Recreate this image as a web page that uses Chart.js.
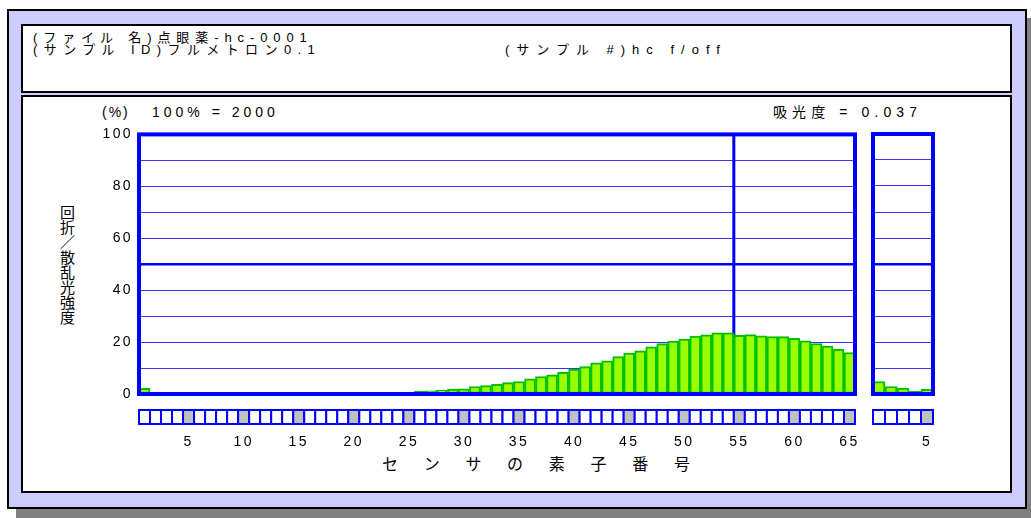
<!DOCTYPE html>
<html lang="ja">
<head>
<meta charset="utf-8">
<title>回折/散乱光強度</title>
<script src="https://cdn.jsdelivr.net/npm/chart.js@4.4.1/dist/chart.umd.min.js"></script>
<style>
html,body{margin:0;padding:0;background:#fff;width:1031px;height:518px;overflow:hidden;}
body{position:relative;font-family:"Liberation Sans","Noto Sans CJK JP",sans-serif;color:#000;}
.frame{position:absolute;left:7px;top:9px;width:1016px;height:496px;border:2px solid #000;background:#ccccff;box-shadow:9px 9px 0 #808080;}
.box{position:absolute;left:21px;width:987px;border:2px solid #000;background:#fff;}
#head{top:24px;height:65px;}
#plot{top:95px;height:394px;}
.t{position:absolute;white-space:pre;}
.h{font-size:13px;line-height:13px;}
.m{font-size:14px;line-height:14px;}
#ytitle{position:absolute;left:59px;top:204px;width:17px;font-family:"Noto Sans CJK JP",sans-serif;font-size:15px;line-height:15px;text-align:center;}
#xtitle{position:absolute;left:382px;top:455px;font-family:"Noto Sans CJK JP",sans-serif;font-size:16px;line-height:16px;letter-spacing:25.7px;white-space:pre;}
canvas{position:absolute;}
#main{left:0;top:120px;}
#side{left:866px;top:120px;}
</style>
</head>
<body>
<div class="frame"></div>
<div class="box" id="head"></div>
<div class="box" id="plot"></div>

<div class="t h" style="left:33px;top:31px;letter-spacing:5.9px;">(ファイル 名)点眼薬-hc-0001</div>
<div class="t h" style="left:33px;top:43px;letter-spacing:6.4px;">(サンプル ID)フルメトロン0.1</div>
<div class="t h" style="left:505px;top:43px;letter-spacing:7px;">(サンプル #)hc f/off</div>

<div class="t m" style="left:102px;top:105px;letter-spacing:2px;">(%)</div>
<div class="t m" style="left:152px;top:105px;letter-spacing:4px;">100% = 2000</div>
<div class="t m" style="left:773px;top:105px;letter-spacing:5.1px;">吸光度 = 0.037</div>

<div id="ytitle">回<br>折<br>／<br>散<br>乱<br>光<br>強<br>度</div>
<div id="xtitle">センサの素子番号</div>

<canvas id="main" width="870" height="340"></canvas>
<canvas id="side" width="80" height="340"></canvas>

<script>
// Sensor element numbers of the main detector array and of the side array
const mainSensors = [1,2,3,4,5,6,7,8,9,10,11,12,13,14,15,16,17,18,19,20,
  21,22,23,24,25,26,27,28,29,30,31,32,33,34,35,36,37,38,39,40,
  41,42,43,44,45,46,47,48,49,50,51,52,53,54,55,56,57,58,59,60,
  61,62,63,64,65];
const sideSensors = [1,2,3,4,5];

// Diffraction / scattering intensity per element (%, 100% = 2000)
const mainIntensity = [2.2,0.7,0,0,0,0,0,0,0,0,0,0,0,0,0,0,0,0,0,0,
  0.4,0.4,0.5,0.5,0.6,1.0,1.2,1.5,1.9,2.0,
  2.9,3.2,3.7,4.4,4.8,5.8,6.7,7.4,8.3,9.6,
  10.6,12.0,12.8,14.4,15.8,16.6,18.2,19.4,20.4,21.2,
  22.3,22.8,23.6,23.6,22.6,22.9,22.4,22.1,22.1,21.4,
  20.5,19.4,18.5,17.2,16.0];
const sideIntensity = [4.8,2.9,2.3,1.0,1.8];

// Labelled ticks
const yTickLabels = [0,20,40,60,80,100];
const mainXTickLabels = [5,10,15,20,25,30,35,40,45,50,55,60,65];
const sideXTickLabels = [5];

// Boundary line drawn after this element of the main array
const markerAfter = 54;

const BLUE = '#0000ff';
Chart.defaults.font.family = '"Liberation Sans","Noto Sans CJK JP",sans-serif';
Chart.defaults.font.size = 14;
Chart.defaults.color = '#000';

const panelDecor = {
  id: 'panelDecor',
  beforeDraw(chart) {
    chart.ctx.letterSpacing = '2.4px';
  },
  beforeDatasetsDraw(chart, args, opts) {
    if (opts.marker == null) return;
    const {ctx, chartArea: a, scales: {x}} = chart;
    const px = (x.getPixelForValue(opts.marker - 1) + x.getPixelForValue(opts.marker)) / 2;
    ctx.save();
    ctx.strokeStyle = BLUE;
    ctx.lineWidth = 3;
    ctx.beginPath();
    ctx.moveTo(px, a.top);
    ctx.lineTo(px, a.bottom);
    ctx.stroke();
    ctx.restore();
  },
  afterDatasetsDraw(chart) {
    const {ctx, chartArea: a} = chart;
    ctx.save();
    ctx.strokeStyle = BLUE;
    ctx.lineWidth = 4;
    ctx.strokeRect(a.left, a.top, a.right - a.left, a.bottom - a.top);
    ctx.restore();
  },
  afterDraw(chart) {
    // element strip under the plot, every fifth element shaded
    const {ctx, chartArea: a, scales: {x}} = chart;
    const labels = chart.data.labels;
    const w = x.getPixelForValue(1) - x.getPixelForValue(0);
    const top = a.bottom + 16, h = 14;
    ctx.save();
    ctx.lineWidth = 2;
    ctx.strokeStyle = BLUE;
    labels.forEach((lab, i) => {
      const cx = x.getPixelForValue(i);
      ctx.fillStyle = lab % 5 === 0 ? '#c0c0c0' : '#ffffff';
      ctx.fillRect(cx - w / 2, top, w, h);
      ctx.strokeRect(cx - w / 2, top, w, h);
    });
    ctx.restore();
  }
};

function makeChart(id, labels, values, xTicks, opts) {
  return new Chart(document.getElementById(id), {
    type: 'bar',
    data: {
      labels: labels,
      datasets: [{
        data: values,
        backgroundColor: '#99ff00',
        borderColor: '#00c000',
        borderWidth: 2,
        borderSkipped: false,
        barPercentage: 1,
        categoryPercentage: 1
      }]
    },
    options: {
      responsive: false,
      animation: false,
      events: [],
      layout: {padding: opts.padding},
      plugins: {
        legend: {display: false},
        tooltip: {enabled: false},
        panelDecor: {marker: opts.marker}
      },
      scales: {
        x: {
          grid: {display: false},
          border: {display: false},
          ticks: {
            autoSkip: false,
            maxRotation: 0,
            padding: 32,
            callback: (v, i) => xTicks.includes(labels[i]) ? String(labels[i]) : ''
          },
          afterFit: s => { s.height = 66; s.paddingLeft = 0; s.paddingRight = 0; }
        },
        y: {
          min: 0,
          max: 100,
          border: {display: false},
          grid: {
            drawTicks: false,
            color: ctx => ctx.tick && ctx.tick.value === 50 ? BLUE : '#3535ff',
            lineWidth: ctx => ctx.tick && ctx.tick.value === 50 ? 2.5 : 1
          },
          ticks: {
            display: opts.yLabels,
            stepSize: 10,
            padding: 6,
            callback: v => yTickLabels.includes(v) ? String(v) : ''
          },
          afterFit: s => { s.width = opts.yWidth; }
        }
      }
    },
    plugins: [panelDecor]
  });
}

makeChart('main', mainSensors, mainIntensity, mainXTickLabels,
  {padding: {left: 0, top: 14, right: 15, bottom: 0}, marker: markerAfter, yLabels: true, yWidth: 139});
makeChart('side', sideSensors, sideIntensity, sideXTickLabels,
  {padding: {left: 7, top: 14, right: 13, bottom: 0}, marker: null, yLabels: false, yWidth: 0});
</script>
</body>
</html>
